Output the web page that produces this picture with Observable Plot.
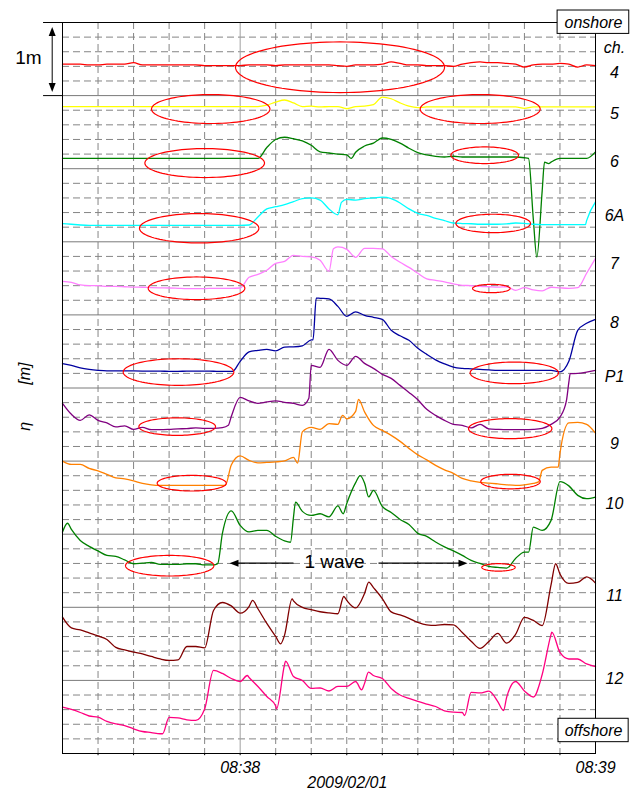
<!DOCTYPE html>
<html><head><meta charset="utf-8">
<script src="https://cdn.jsdelivr.net/npm/d3@7"></script>
<script src="https://cdn.jsdelivr.net/npm/@observablehq/plot@0.6"></script>
<style>body{margin:0;background:#fff;} svg{display:block}</style>
</head><body><div id="chart"></div>
<script>
// time in seconds after 08:37:30 (2009/02/01)
const time = [0,1.5,3,4.5,6,7.5,9,10.5,12,13.5,15,16.5,18,19.5,21,22.5,24,25.5,27,28.5,30,31.5,33,34.5,36,37.5,39,40.5,42,43.5,45,46.5,48,49.5,51,52.5,54,55.5,57,58.5,60,61.5,63,64.5,66,67.5,69,70.5,72,73.5,75,76.5,78,79.5,81,82.5,84,85.5,87,88.5,90];

// plotted level [m] (eta + channel offset)
const ch4 = [9.43,9.43,9.43,9.42,9.42,9.43,9.43,9.43,9.45,9.42, 9.42,9.42,9.42,9.42,9.42,9.42,9.41,9.41,9.41,9.41, 9.41,9.42,9.42,9.42,9.41,9.42,9.42,9.42,9.42,9.42, 9.42,9.41,9.40,9.42,9.42,9.42,9.43,9.46,9.44,9.42, 9.42,9.41,9.41,9.41,9.40,9.43,9.45,9.46,9.45,9.45, 9.44,9.43,9.39,9.42,9.43,9.43,9.44,9.43,9.39,9.42, 9.41];
const ch5 = [8.85,8.85,8.85,8.85,8.85,8.85,8.85,8.85,8.85,8.85, 8.85,8.85,8.85,8.85,8.85,8.85,8.85,8.85,8.85,8.85, 8.85,8.85,8.85,8.87,8.91,8.94,8.90,8.85,8.855,8.845, 8.85,8.85,8.82,8.85,8.855,8.875,8.98,8.957,8.90,8.855, 8.835,8.845,8.845,8.845,8.845,8.845,8.845,8.845,8.845,8.845, 8.845,8.845,8.825,8.845,8.845,8.845,8.845,8.845,8.845,8.845, 8.845];
const ch6 = [8.14,8.14,8.14,8.14,8.14,8.14,8.14,8.14,8.14,8.14, 8.14,8.14,8.14,8.14,8.14,8.14,8.14,8.14,8.14,8.14, 8.14,8.14,8.14,8.29,8.40,8.43,8.41,8.38,8.32,8.23, 8.215,8.20,8.19,8.225,8.31,8.35,8.42,8.40,8.35,8.28, 8.22,8.19,8.17,8.16,8.17,8.16,8.16,8.16,8.16,8.16, 8.16,8.16,8.15,7.31,7.70,8.09,8.14,8.14,8.14,8.14, 8.23];
const ch6A = [7.25,7.24,7.23,7.225,7.225,7.225,7.225,7.225,7.225,7.225, 7.225,7.225,7.225,7.225,7.225,7.225,7.225,7.225,7.225,7.225, 7.225,7.23,7.34,7.45,7.48,7.51,7.55,7.59,7.60,7.57, 7.45,7.37,7.58,7.57,7.59,7.60,7.61,7.59,7.53,7.45, 7.39,7.36,7.32,7.29,7.257,7.25,7.247,7.24,7.24,7.24, 7.245,7.257,7.253,7.24,7.235,7.235,7.235,7.235,7.235,7.29, 7.545];
const ch7 = [6.46,6.446,6.41,6.40,6.40,6.39,6.39,6.385,6.38,6.378, 6.373,6.37,6.368,6.364,6.36,6.36,6.36,6.364,6.364,6.364, 6.368,6.514,6.555,6.61,6.706,6.733,6.815,6.80,6.795,6.747, 6.596,6.93,6.897,6.788,6.911,6.911,6.904,6.80,6.72,6.65, 6.57,6.494,6.473,6.453,6.425,6.405,6.40,6.39,6.385,6.38, 6.385,6.336,6.373,6.343,6.33,6.378,6.37,6.364,6.373,6.57, 6.774];
const ch8 = [5.333,5.31,5.276,5.255,5.242,5.235,5.235,5.233,5.233,5.232, 5.23,5.23,5.228,5.228,5.23,5.23,5.23,5.229,5.228,5.228, 5.365,5.495,5.515,5.529,5.508,5.56,5.563,5.577,5.659,6.227, 6.22,6.117,5.98,6.042,5.994,5.967,5.94,5.789,5.714,5.652, 5.543,5.46,5.385,5.33,5.287,5.269,5.262,5.255,5.248,5.242, 5.242,5.242,5.242,5.242,5.242,5.242,5.22,5.365,5.789,5.885, 5.94];
const chP1 = [4.79,4.64,4.557,4.633,4.557,4.523,4.468,4.482,4.434,4.461, 4.43,4.43,4.434,4.441,4.444,4.455,4.448,4.448,4.457,4.61, 4.872,4.824,4.79,4.81,4.824,4.804,4.79,4.763,5.31,5.283, 5.529,5.378,5.31,5.433,5.337,5.269,5.187,5.132,5.036,4.94, 4.838,4.708,4.626,4.557,4.503,4.489,4.455,4.503,4.441,4.434, 4.43,4.43,4.43,4.434,4.448,4.503,4.602,5.08,5.2,5.218, 5.242];
const ch9 = [4.0,3.955,3.955,3.90,3.866,3.818,3.77,3.757,3.73,3.695, 3.675,3.668,3.668,3.668,3.668,3.668,3.668,3.668,3.668,3.947, 4.071,4.01,3.976,3.982,3.989,4.003,4.051,4.40,4.461,4.434, 4.512,4.503,4.579,4.68,4.674,4.489,4.42,4.352,4.27,4.174, 4.085,4.017,3.941,3.88,3.832,3.764,3.73,3.709,3.70,3.688, 3.675,3.668,3.675,3.695,3.873,3.918,4.105,4.523,4.53,4.503, 4.383];
const ch10 = [3.029,3.066,2.915,2.833,2.771,2.71,2.696,2.648,2.596,2.604, 2.613,2.587,2.587,2.587,2.596,2.596,2.58,2.58,3.01,3.32, 3.121,3.031,3.052,3.052,2.97,2.908,3.23,3.312,3.257,3.28, 3.237,3.387,3.421,3.705,3.70,3.6,3.38,3.298,3.202,3.134, 3.011,2.97,2.894,2.826,2.771,2.71,2.641,2.60,2.559,2.545, 2.536,2.668,2.755,3.097,3.052,3.189,3.72,3.661,3.531,3.486, 3.508];
const ch11 = [1.865,1.718,1.69,1.649,1.608,1.56,1.451,1.416,1.386,1.362, 1.327,1.293,1.273,1.28,1.464,1.464,1.444,1.957,2.066,2.019, 1.92,2.01,1.98,1.779,1.601,1.62,2.088,1.998,1.967,1.939, 1.923,1.912,2.094,1.991,2.19,2.27,2.12,1.937,1.895,1.848, 1.793,1.759,1.752,1.765,1.759,1.656,1.537,1.437,1.533,1.642, 1.51,1.629,1.861,1.82,1.75,2.31,2.456,2.327,2.34,2.415, 2.331];
const ch12 = [0.634,0.602,0.561,0.513,0.497,0.438,0.404,0.383,0.338,0.301, 0.287,0.27,0.493,0.486,0.461,0.452,0.609,1.136,1.095,1.026, 0.985,1.04,0.917,0.78,0.65,1.218,1.054,0.999,0.89,0.896, 0.855,0.917,0.917,0.985,0.958,1.067,1.026,0.89,0.80,0.753, 0.712,0.677,0.643,0.582,0.565,0.561,0.835,0.828,0.853,0.71, 0.77,0.985,0.855,0.773,1.081,1.629,1.382,1.293,1.293,1.225, 1.19];

// sharp features between the sampling times
const extras = [
  {ch:"6", t:48.75, v:8.14}, {ch:"6", t:78.69, v:8.14}, {ch:"6", t:80.09, v:6.79}, {ch:"6", t:81.39, v:8.09}, {ch:"6", t:82.1, v:8.07},
  {ch:"6A", t:47.1, v:7.54}, {ch:"6A", t:88.3, v:7.235},
  {ch:"7", t:45.75, v:6.905},
  {ch:"8", t:28.7, v:5.228}, {ch:"8", t:42.3, v:5.66}, {ch:"8", t:42.85, v:6.23},
  {ch:"P1", t:28.0, v:4.489}, {ch:"P1", t:41.6, v:4.86}, {ch:"P1", t:85.1, v:4.83}, {ch:"P1", t:85.73, v:5.196},
  {ch:"9", t:27.5, v:3.668}, {ch:"9", t:39.7, v:3.973}, {ch:"9", t:47.3, v:4.626}, {ch:"9", t:49.98, v:4.845}, {ch:"9", t:80.4, v:3.715}, {ch:"9", t:83.7, v:3.918},
  {ch:"10", t:0.85, v:3.15}, {ch:"10", t:26.2, v:2.596}, {ch:"10", t:38.5, v:2.89}, {ch:"10", t:39.35, v:3.44}, {ch:"10", t:47.4, v:3.28}, {ch:"10", t:50.27, v:3.80}, {ch:"10", t:51.7, v:3.51}, {ch:"10", t:78.7, v:2.755},
  {ch:"11", t:32.1, v:2.094}, {ch:"11", t:36.83, v:1.50}, {ch:"11", t:38.77, v:2.115}, {ch:"11", t:47.5, v:2.148}, {ch:"11", t:51.72, v:2.344}, {ch:"11", t:83.27, v:2.596},
  {ch:"12", t:16.9, v:0.27}, {ch:"12", t:31.2, v:1.067}, {ch:"12", t:36.14, v:0.612}, {ch:"12", t:37.66, v:1.263}, {ch:"12", t:50.5, v:0.872}, {ch:"12", t:51.67, v:1.113}, {ch:"12", t:67.9, v:0.52}, {ch:"12", t:74.47, v:0.588}, {ch:"12", t:82.62, v:1.66}
];

const channels = ["4","5","6","6A","7","8","P1","9","10","11","12"];
const colors = ["#ff0000","#ffff00","#008000","#00ffff","#ff80ff","#0000a0","#800080","#ff8000","#008000","#800000","#ff0080"];
const series = [ch4, ch5, ch6, ch6A, ch7, ch8, chP1, ch9, ch10, ch11, ch12];

const labelNames = ["ch.","4","5","6","6A","7","8","P1","9","10","11","12"];
const labelLevels = [9.65,9.317,8.756,8.094,7.355,6.694,5.886,5.151,4.24,3.409,2.162,1.026];

// red ellipses: centre (t, level) and radii
const ellCx = [46.86,25.03,70.53,24.01,71.29,23.08,72.73,22.63,72.41,19.59,76.29,19.37,75.60,21.82,75.65,18.10,73.62];
const ellCy = [9.388,8.816,8.816,8.077,8.184,7.185,7.251,6.364,6.361,5.218,5.207,4.472,4.444,3.698,3.720,2.569,2.546];
const ellRx = [17.65,10.0,10.13,10.1,5.71,10.08,6.30,8.16,3.17,9.34,7.46,6.47,7.04,5.83,5.02,7.46,2.82];
const ellRy = [0.346,0.198,0.198,0.198,0.114,0.201,0.126,0.155,0.057,0.182,0.148,0.120,0.137,0.107,0.099,0.141,0.051];

const tickTimes = [30, 90];
const tickLabels = ["08:38", "08:39"];
const dateLabel = "2009/02/01";

// ---- build tables ----
const rows = [];
channels.forEach((c, i) => series[i].forEach((v, j) => rows.push({ch: c, t: time[j], v})));
extras.forEach(e => rows.push(e));

const ellPts = [];
ellCx.forEach((cx, k) => {
  for (let j = 0; j <= 96; j++) {
    const a = j / 96 * 2 * Math.PI;
    ellPts.push({id: k, t: cx + ellRx[k] * Math.cos(a), v: ellCy[k] + ellRy[k] * Math.sin(a)});
  }
});

const minorY = d3.range(1, 50).filter(k => k % 5 !== 0).map(k => k * 0.2);
const majorY = d3.range(1, 10);
const gridX = d3.range(6, 90, 6);
const minorX = gridX.filter(t => t !== 30);

function head(dx, dy) {
  return {draw(ctx) {
    const L = 9, W = 3.5, px = -dy, py = dx;
    ctx.moveTo(0, 0);
    ctx.lineTo(-dx * L + px * W, -dy * L + py * W);
    ctx.lineTo(-dx * L - px * W, -dy * L - py * W);
    ctx.closePath();
  }};
}

const font = "'Liberation Sans', Arial, sans-serif";

const marks = [
  Plot.ruleY(minorY, {stroke: "#858585", strokeDasharray: "7,4"}),
  Plot.ruleX(minorX, {stroke: "#858585", strokeDasharray: "7,4"}),
  Plot.ruleY(majorY, {stroke: "#7a7a7a"}),
  Plot.ruleX([30], {stroke: "#a0a0a0"}),
  ...channels.map((c, i) => Plot.line(rows.filter(d => d.ch === c).sort((a, b) => a.t - b.t),
      {x: "t", y: "v", stroke: colors[i], strokeWidth: 1.3, curve: "monotone-x"})),
  Plot.line(ellPts, {x: "t", y: "v", z: "id", stroke: "#ff0000", strokeWidth: 1.2}),
  Plot.frame({stroke: "black"}),
  Plot.ruleX(gridX, {y1: 0, y2: -0.03, stroke: "black"}),
  // onshore / offshore boxes
  Plot.rect([{x1: 83.6, x2: 95.7, y1: 9.844, y2: 10.164}, {x1: 83.75, x2: 95.6, y1: 0.155, y2: 0.475}],
      {x1: "x1", x2: "x2", y1: "y1", y2: "y2", fill: "white", stroke: "black"}),
  Plot.text([{s: "onshore", t: 89.65, v: 10.0}, {s: "offshore", t: 89.67, v: 0.316}],
      {x: "t", y: "v", text: "s", fontSize: 16, fontStyle: "italic"}),
  // channel labels
  Plot.text(labelNames.map((s, i) => ({s, t: 90, v: labelLevels[i]})),
      {x: "t", y: "v", text: "s", dx: 19, fontSize: 16, fontStyle: "italic"}),
  // time axis labels
  Plot.text(tickTimes.map((t, i) => ({t, s: tickLabels[i]})),
      {x: "t", frameAnchor: "bottom", lineAnchor: "top", dy: 8, text: "s", fontSize: 16, fontStyle: "italic"}),
  Plot.text([{t: 48.1, s: dateLabel}],
      {x: "t", frameAnchor: "bottom", lineAnchor: "top", dy: 23.5, text: "s", fontSize: 16, fontStyle: "italic"}),
  // y label
  Plot.text([{t: -6.3, v: 5.196, s: "[m]"}, {t: -6.3, v: 4.475, s: "η"}],
      {x: "t", y: "v", text: "s", rotate: -90, fontSize: 16, fontStyle: "italic"}),
  // 1 m scale bar
  Plot.ruleY([9, 10], {x1: -3.2, x2: 0, stroke: "black"}),
  Plot.link([{x1: -1.74, x2: -1.74, y1: 9.1, y2: 9.9}], {x1: "x1", x2: "x2", y1: "y1", y2: "y2", stroke: "black"}),
  Plot.dot([{t: -1.74, v: 9.94}], {x: "t", y: "v", symbol: head(0, -1), fill: "black", stroke: "none"}),
  Plot.dot([{t: -1.74, v: 9.05}], {x: "t", y: "v", symbol: head(0, 1), fill: "black", stroke: "none"}),
  Plot.text([{t: -5.74, v: 9.513, s: "1m"}], {x: "t", y: "v", text: "s", fontSize: 19}),
  // 1 wave
  Plot.link([{x1: 39.0, x2: 29.0, y: 2.604}, {x1: 53.36, x2: 67.6, y: 2.604}],
      {x1: "x1", x2: "x2", y1: "y", y2: "y", stroke: "black", strokeWidth: 1.2}),
  Plot.dot([{t: 28.2, v: 2.604}], {x: "t", y: "v", symbol: head(-1, 0), fill: "black", stroke: "none"}),
  Plot.dot([{t: 68.39, v: 2.604}], {x: "t", y: "v", symbol: head(1, 0), fill: "black", stroke: "none"}),
  Plot.text([{t: 45.93, v: 2.615, s: "1 wave"}], {x: "t", y: "v", text: "s", fontSize: 19})
];

const chart = Plot.plot({
  width: 638, height: 793,
  marginLeft: 62, marginRight: 43, marginTop: 22, marginBottom: 40,
  x: {domain: [0, 90], axis: null},
  y: {domain: [0, 10], axis: null},
  style: {fontFamily: font, background: "white", color: "black"},
  marks
});
document.getElementById("chart").appendChild(chart);
</script>
</body></html>
